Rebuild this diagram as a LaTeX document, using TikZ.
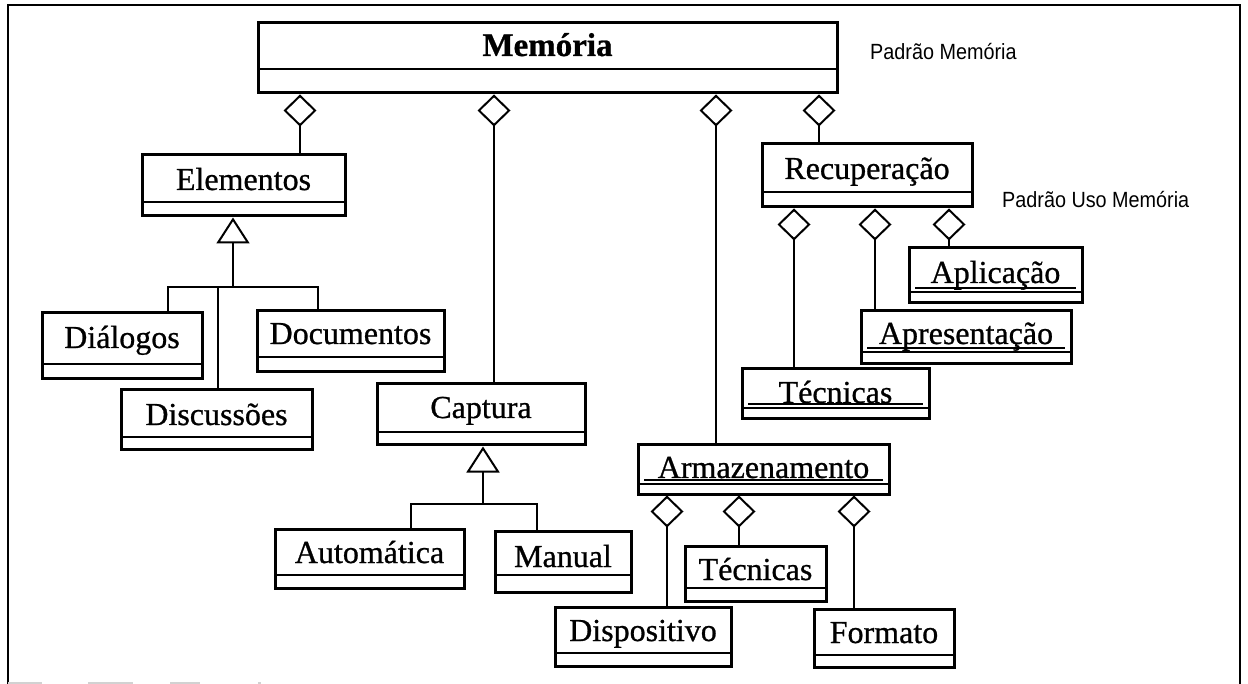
\documentclass[tikz,border=0pt]{standalone}
\usepackage{fontspec}
\setmainfont{Liberation Serif}[FakeBold=0.8]
\newfontfamily\namefont{Liberation Serif}[FakeBold=0.8]
\newfontfamily\notesans{Liberation Sans}[FakeStretch=0.9]
\usetikzlibrary{arrows.meta}

\tikzset{
  classbox/.style={draw, line width=3pt, inner sep=0pt, fill=white},
  divider/.style={line width=2pt},
  underl/.style={line width=1.5pt},
  classname/.style={font=\namefont\fontsize{32}{36}\selectfont, inner sep=0pt, anchor=base},
  mainname/.style={font=\bfseries\fontsize{33}{38}\selectfont, inner sep=0pt, anchor=base},
  note/.style={font=\notesans\fontsize{22}{26}\selectfont, inner sep=0pt, anchor=base west},
  conn/.style={line width=2pt},
  agg/.style={conn, {Diamond[open,length=32pt,width=33pt]}-},
  inh/.style={conn, -{Triangle[open,length=26pt,width=33pt]}},
  frame/.style={line width=2pt},
}

% class box: name, x1, y1, x2, divider y, y2, text baseline, label style, text
\newcommand{\umlclass}[9]{%
  \node[classbox, minimum width={#4-#2}, minimum height={#6-#3}] (#1) at ({(#2+#4)/2},{(#3+#6)/2}) {};
  \draw[divider] (#2,#5) -- (#4,#5);
  \node[#8] (#1-name) at ({(#2+#4)/2},#7) {#9};
}
% underlined name line just above the divider
\newcommand{\nameline}[3]{%
  \draw[underl] ({#1+6},{#3-4}) -- ({#2-6},{#3-4});
}

\begin{document}
\begin{tikzpicture}[x=1pt,y=-1pt]
\useasboundingbox (0,0) rectangle (1248,684);

% page frame
\draw[frame] (8,684) -- (8,5) -- (1240,5) -- (1240,684);
\draw[line width=1.5pt, gray!35, dash pattern=on 34pt off 46pt on 45pt off 37pt on 30pt off 58pt on 3pt off 20pt] (8,683) -- (265,683);

% classes
\umlclass{mem}{258}{23}{837}{69}{93}{56}{mainname}{Memória}
\umlclass{elem}{142}{155}{345}{202}{216}{190}{classname}{Elementos}
\umlclass{dial}{42}{313}{202}{364}{379}{348}{classname}{Diálogos}
\umlclass{docs}{257}{311}{444}{357}{372}{344}{classname}{Documentos}
\umlclass{disc}{121}{390}{312}{437}{450}{425}{classname}{Discussões}
\umlclass{capt}{377}{384}{585}{432}{445}{418}{classname}{Captura}
\umlclass{auto}{275}{529}{464}{575}{588}{563}{classname}{Automática}
\umlclass{manu}{495}{531}{631}{575}{592}{567}{classname}{Manual}
\umlclass{recu}{762}{144}{972}{192}{207}{179}{classname}{Recuperação}
\umlclass{apli}{909}{248}{1082}{292}{303}{283}{classname}{Aplicação}
\umlclass{apre}{861}{311}{1071}{352}{364}{344}{classname}{Apresentação}
\umlclass{tecr}{742}{369}{929}{408}{419}{403}{classname}{Técnicas}
\umlclass{arma}{638}{445}{889}{484}{494}{478}{classname}{Armazenamento}
\umlclass{teca}{685}{546}{826}{588}{601}{580}{classname}{Técnicas}
\umlclass{disp}{555}{607}{731}{653}{666}{641}{classname}{Dispositivo}
\umlclass{form}{814}{609}{954}{655}{667}{643}{classname}{Formato}

% underlined names
\nameline{909}{1082}{292}
\nameline{861}{1071}{352}
\nameline{742}{929}{408}
\nameline{638}{889}{484}

% notes
\node[note] (n1) at (870,60) {Padrão Memória};
\node[note] (n2) at (1002,208) {Padrão Uso Memória};

% aggregation from Memória
\coordinate (m1) at (300,0);
\coordinate (m2) at (494,0);
\coordinate (m3) at (716,0);
\coordinate (m4) at (819,0);
\draw[agg] (mem.south -| m1) -- (elem.north -| m1);
\draw[agg] (mem.south -| m2) -- (capt.north -| m2);
\draw[agg] (mem.south -| m3) -- (arma.north -| m3);
\draw[agg] (mem.south -| m4) -- (recu.north -| m4);

% aggregation from Recuperação
\coordinate (r1) at (794,0);
\coordinate (r2) at (875,0);
\coordinate (r3) at (949,0);
\draw[agg] (recu.south -| r1) -- (tecr.north -| r1);
\draw[agg] (recu.south -| r2) -- (apre.north -| r2);
\draw[agg] (recu.south -| r3) -- (apli.north -| r3);

% aggregation from Armazenamento
\coordinate (a1) at (667,0);
\coordinate (a2) at (739,0);
\coordinate (a3) at (854,0);
\draw[agg] (arma.south -| a1) -- (disp.north -| a1);
\draw[agg] (arma.south -| a2) -- (teca.north -| a2);
\draw[agg] (arma.south -| a3) -- (form.north -| a3);

% generalization of Elementos
\coordinate (g1) at (233,287);
\coordinate (g1l) at (168,287);
\coordinate (g1m) at (218,287);
\coordinate (g1r) at (318,287);
\draw[inh] (g1) -- (elem.south -| g1);
\draw[conn] (dial.north -| g1l) -- (g1l) -- (g1r) -- (docs.north -| g1r);
\draw[conn] (g1m) -- (disc.north -| g1m);

% generalization of Captura
\coordinate (g2) at (483,504);
\coordinate (g2l) at (411,504);
\coordinate (g2r) at (537,504);
\draw[inh] (g2) -- (capt.south -| g2);
\draw[conn] (auto.north -| g2l) -- (g2l) -- (g2r) -- (manu.north -| g2r);
\end{tikzpicture}
\end{document}
